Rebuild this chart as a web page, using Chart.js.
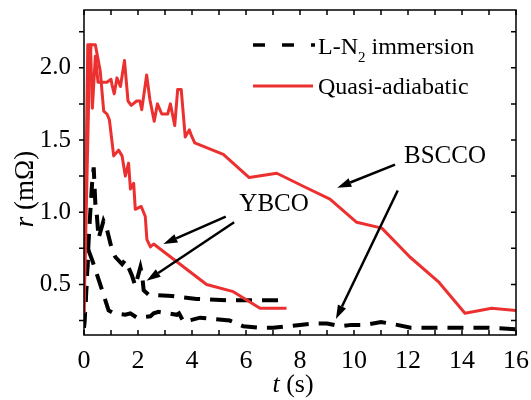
<!DOCTYPE html>
<html>
<head>
<meta charset="utf-8">
<script src="https://cdn.jsdelivr.net/npm/chart.js@4.4.0/dist/chart.umd.min.js"></script>
<style>
html, body { margin: 0; padding: 0; background: #fff; }
.probe { font-family: "Liberation Serif"; position: absolute; left: -1000px; top: 0; }
</style>
</head>
<body>
<span class="probe">0.5 BSCCO</span><span class="probe"><i>t r</i></span>
<canvas id="chart" width="531" height="400"></canvas>
<script>
// Resistance r (mOhm) vs time t (s)

// BSCCO, quasi-adiabatic
const bsccoAdiaT = [0, 0.14, 0.24, 0.31, 0.42, 0.52, 0.65, 0.85, 1.0, 1.04, 1.12, 1.22, 1.35, 1.5, 1.63, 1.75, 1.95, 2.07, 2.14, 2.32,
    2.44, 2.6, 2.72, 2.88, 3.1, 3.2, 3.36, 3.47, 3.6, 3.75, 3.9, 3.98, 4.1, 5.16, 6.12, 7.14, 8.12, 9.11, 10.1, 11.03,
    12.07, 13.12, 14.11, 15.1, 16];
const bsccoAdiaR = [0.3, 2.16, 2.16, 1.72, 2.08, 1.9, 1.9, 1.9, 1.92, 1.88, 1.82, 1.93, 1.87, 2.05, 1.77, 1.74, 1.77, 1.77, 1.71, 1.95,
    1.78, 1.63, 1.75, 1.68, 1.68, 1.75, 1.60, 1.85, 1.85, 1.52, 1.57, 1.53, 1.48, 1.40, 1.24, 1.27, 1.18, 1.09, 0.93, 0.89,
    0.69, 0.52, 0.30, 0.335, 0.32];

// YBCO, quasi-adiabatic
const ybcoAdiaT = [0, 0.2, 0.26, 0.42, 0.6, 0.73, 0.85, 0.94, 1.1, 1.28, 1.41, 1.53, 1.65, 1.72, 1.84, 1.9, 2.12, 2.27, 2.33, 2.46,
    2.58, 4.54, 5.53, 6.52, 7.5];
const ybcoAdiaR = [0.3, 2.0, 2.16, 2.16, 1.98, 1.70, 1.68, 1.64, 1.39, 1.43, 1.39, 1.25, 1.34, 1.16, 1.20, 1.02, 1.04, 0.97, 0.81, 0.76,
    0.78, 0.50, 0.45, 0.335, 0.335];

// YBCO, L-N2 immersion
const ybcoLn2T = [0, 0.2, 0.3, 0.36, 0.42, 0.48, 0.54, 0.72, 0.85, 1.01, 1.16, 1.41, 1.53, 1.78, 1.9, 2.09, 2.15, 2.21, 2.39, 3.26,
    4.17, 5.28, 6.5, 7.5];
const ybcoLn2R = [0.2, 0.9, 1.2, 1.31, 1.06, 0.97, 0.82, 0.94, 0.88, 0.76, 0.69, 0.64, 0.67, 0.56, 0.49, 0.62, 0.57, 0.46, 0.43, 0.42,
    0.40, 0.39, 0.39, 0.39];

// BSCCO, L-N2 immersion
const bsccoLn2T = [0, 0.06, 0.16, 0.3, 0.6, 0.67, 0.91, 1.1, 1.53, 1.72, 1.96, 2.46, 2.58, 2.76, 3.44, 3.52, 3.69, 4.3, 4.8, 5.4,
    5.9, 6.5, 7.0, 7.5, 8.0, 8.6, 9.0, 9.5, 9.9, 10.4, 11.0, 11.6, 12.1, 13.0, 14.0, 15.0, 16.0];
const bsccoLn2R = [0.2, 0.36, 0.74, 0.67, 0.5, 0.46, 0.32, 0.30, 0.29, 0.30, 0.27, 0.28, 0.30, 0.31, 0.29, 0.30, 0.24, 0.27, 0.26, 0.25,
    0.21, 0.20, 0.20, 0.21, 0.22, 0.23, 0.23, 0.21, 0.22, 0.22, 0.24, 0.22, 0.20, 0.20, 0.20, 0.20, 0.19];

// Axis ticks
const xTicks = [0, 1, 2, 3, 4, 5, 6, 7, 8, 9, 10, 11, 12, 13, 14, 15, 16];
const yTicks = [0.25, 0.5, 0.75, 1.0, 1.25, 1.5, 1.75, 2.0, 2.25];

const legendLabels = ['L-N', 'Quasi-adiabatic'];

const RED = '#ec3030';
const FONT = '"Liberation Serif", "Times New Roman", serif';

// Annotation text and arrows, placed in data units (t, r)
const notes = [
    { text: 'BSCCO', t: 13.37, r: 1.344 },
    { text: 'YBCO', t: 7.04, r: 1.006 }
];
const arrows = [
    [5.25, 0.97, 2.94, 0.78],
    [5.56, 0.93, 2.32, 0.525],
    [11.52, 1.33, 9.38, 1.17],
    [11.62, 1.15, 9.33, 0.26]
];

function toPoints(ts, rs) {
    return ts.map((t, i) => ({ x: t, y: rs[i] }));
}

function drawArrow(ctx, x1, y1, x2, y2) {
    const ang = Math.atan2(y2 - y1, x2 - x1);
    const head = 14, half = 4.5;
    const bx = x2 - head * Math.cos(ang), by = y2 - head * Math.sin(ang);
    ctx.beginPath();
    ctx.moveTo(x1, y1);
    ctx.lineTo(bx, by);
    ctx.stroke();
    ctx.beginPath();
    ctx.moveTo(x2, y2);
    ctx.lineTo(bx + half * Math.sin(ang), by - half * Math.cos(ang));
    ctx.lineTo(bx - half * Math.sin(ang), by + half * Math.cos(ang));
    ctx.closePath();
    ctx.fill();
}

// frame, inward/outward ticks, axis titles, legend, notes
const decorPlugin = {
    id: 'decor',
    afterDraw(chart) {
        const { ctx, chartArea: a, scales: { x, y } } = chart;
        ctx.save();
        ctx.strokeStyle = '#000';
        ctx.fillStyle = '#000';
        ctx.lineWidth = 1.5;
        ctx.strokeRect(a.left, a.top, a.right - a.left, a.bottom - a.top);

        ctx.beginPath();
        xTicks.forEach(v => {
            const px = x.getPixelForValue(v);
            ctx.moveTo(px, a.bottom); ctx.lineTo(px, a.bottom - 5);
            ctx.moveTo(px, a.top); ctx.lineTo(px, a.top + 5);
        });
        yTicks.forEach(v => {
            const py = y.getPixelForValue(v);
            ctx.moveTo(a.left - 5, py); ctx.lineTo(a.left, py);
            ctx.moveTo(a.right, py); ctx.lineTo(a.right - 5, py);
        });
        ctx.stroke();

        // x title: t (s)
        ctx.textBaseline = 'alphabetic';
        ctx.textAlign = 'left';
        ctx.font = 'italic 26px ' + FONT;
        const wt = ctx.measureText('t').width;
        ctx.font = '26px ' + FONT;
        const ws = ctx.measureText(' (s)').width;
        let sx = 293 - (wt + ws) / 2;
        ctx.font = 'italic 26px ' + FONT;
        ctx.fillText('t', sx, 392);
        ctx.font = '26px ' + FONT;
        ctx.fillText(' (s)', sx + wt, 392);

        // y title: r (mΩ)
        ctx.save();
        ctx.translate(33, 189);
        ctx.rotate(-Math.PI / 2);
        ctx.font = 'italic 27px ' + FONT;
        const wr = ctx.measureText('r').width;
        ctx.font = '27px ' + FONT;
        const wu = ctx.measureText(' (mΩ)').width;
        sx = -(wr + wu) / 2;
        ctx.font = 'italic 27px ' + FONT;
        ctx.fillText('r', sx, 0);
        ctx.font = '27px ' + FONT;
        ctx.fillText(' (mΩ)', sx + wr, 0);
        ctx.restore();

        // legend
        ctx.lineWidth = 3.5;
        ctx.lineCap = 'butt';
        ctx.setLineDash([12, 17]);
        ctx.beginPath();
        ctx.moveTo(253, 45); ctx.lineTo(315, 45);
        ctx.stroke();
        ctx.setLineDash([]);
        ctx.strokeStyle = RED;
        ctx.lineWidth = 3;
        ctx.beginPath();
        ctx.moveTo(253, 86); ctx.lineTo(313, 86);
        ctx.stroke();

        ctx.font = '24px ' + FONT;
        ctx.fillText(legendLabels[0], 318, 54);
        const wl = ctx.measureText(legendLabels[0]).width;
        ctx.font = '15px ' + FONT;
        ctx.fillText('2', 318 + wl, 62);
        const w2 = ctx.measureText('2').width;
        ctx.font = '24px ' + FONT;
        ctx.fillText(' immersion', 318 + wl + w2, 54);
        ctx.fillText(legendLabels[1], 318, 94);

        // annotations
        ctx.strokeStyle = '#000';
        ctx.lineWidth = 2.5;
        ctx.font = '25px ' + FONT;
        ctx.textAlign = 'center';
        notes.forEach(n => ctx.fillText(n.text, x.getPixelForValue(n.t), y.getPixelForValue(n.r)));
        arrows.forEach(ar => drawArrow(ctx,
            x.getPixelForValue(ar[0]), y.getPixelForValue(ar[1]),
            x.getPixelForValue(ar[2]), y.getPixelForValue(ar[3])));
        ctx.restore();
    }
};

const redLine = { borderColor: RED, borderWidth: 3, pointRadius: 0, tension: 0, borderJoinStyle: 'round', fill: false };
const blackDash = { borderColor: '#000', borderWidth: 4, borderDash: [16, 10], borderCapStyle: 'butt', pointRadius: 0, tension: 0, fill: false };

function drawChart() {
    new Chart(document.getElementById('chart'), {
        type: 'line',
        data: {
            datasets: [
                Object.assign({ label: 'BSCCO quasi-adiabatic', data: toPoints(bsccoAdiaT, bsccoAdiaR) }, redLine),
                Object.assign({ label: 'YBCO quasi-adiabatic', data: toPoints(ybcoAdiaT, ybcoAdiaR) }, redLine),
                Object.assign({ label: 'YBCO L-N2 immersion', data: toPoints(ybcoLn2T, ybcoLn2R) }, blackDash),
                Object.assign({ label: 'BSCCO L-N2 immersion', data: toPoints(bsccoLn2T, bsccoLn2R) }, blackDash)
            ]
        },
        options: {
            responsive: false,
            animation: false,
            devicePixelRatio: 1,
            layout: { padding: { top: 10, right: 15, left: 0, bottom: 0 } },
            plugins: { legend: { display: false }, tooltip: { enabled: false } },
            scales: {
                x: {
                    type: 'linear',
                    min: 0,
                    max: 16,
                    afterBuildTicks: s => { s.ticks = xTicks.map(v => ({ value: v })); },
                    afterFit: s => { s.height = 65; s.paddingLeft = 0; s.paddingRight = 0; },
                    grid: { display: false },
                    border: { display: false },
                    ticks: {
                        autoSkip: false,
                        maxRotation: 0,
                        padding: 3,
                        color: '#000',
                        font: { family: FONT, size: 26 },
                        callback: v => (v % 2 === 0 ? String(v) : '')
                    }
                },
                y: {
                    type: 'linear',
                    min: 0.15,
                    max: 2.4,
                    afterBuildTicks: s => { s.ticks = yTicks.map(v => ({ value: v })); },
                    afterFit: s => { s.width = 84; s.paddingTop = 0; s.paddingBottom = 0; },
                    grid: { display: false },
                    border: { display: false },
                    ticks: {
                        autoSkip: false,
                        padding: 5,
                        color: '#000',
                        font: { family: FONT, size: 25 },
                        callback: v => (Math.abs(v * 2 - Math.round(v * 2)) < 1e-6 ? v.toFixed(1) : '')
                    }
                }
            }
        },
        plugins: [decorPlugin]
    });
}

Promise.all([
    document.fonts.load('26px "Liberation Serif"'),
    document.fonts.load('italic 26px "Liberation Serif"')
]).then(drawChart, drawChart);
</script>
</body>
</html>
